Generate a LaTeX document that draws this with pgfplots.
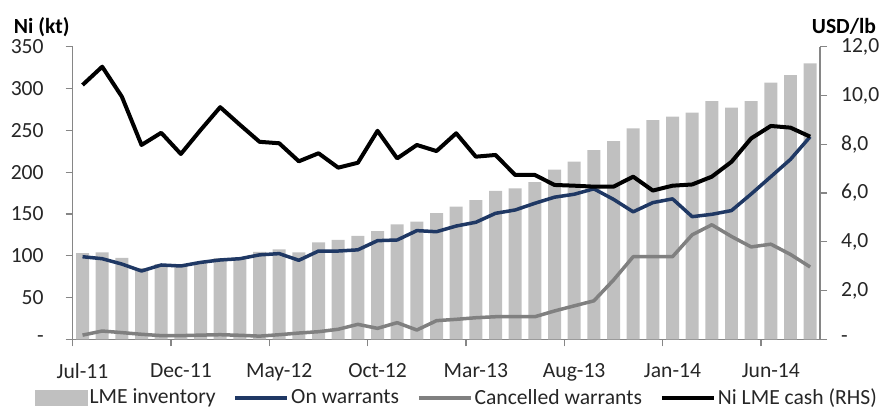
\documentclass[border=0pt]{standalone}
\usepackage{fontspec}
\setmainfont{Carlito}
\usepackage{pgfplots}
\usepackage{pgfplotstable}
\pgfplotsset{compat=1.18}
\definecolor{barc}{HTML}{C0C0C0}
\definecolor{navy}{HTML}{1F3864}
\definecolor{lgray}{HTML}{808080}
\definecolor{axc}{HTML}{868686}
\definecolor{txt}{HTML}{262626}
\pgfplotstableread{
x inv onw canc cash
0 103 98.8 5 10.43
1 104 96.4 9.9 11.18
2 97.5 90 8 9.95
3 85 81.7 6 7.97
4 90 88.9 4.4 8.47
5 88 87.7 4.4 7.6
6 92.5 92 5 8.58
7 97 94.9 5.5 9.52
8 98 96.4 4.8 8.8
9 104.5 101 3.8 8.1
10 107.5 102.5 5.5 8.04
11 104 94.5 7.5 7.3
12 116 105.6 9.1 7.63
13 119 105.6 12 7.04
14 123.6 107 17.9 7.24
15 129.5 118 13.1 8.55
16 137.5 118.8 19.9 7.42
17 140.7 130 11.1 7.97
18 151 128.7 22.3 7.72
19 158.6 135.5 23.9 8.45
20 166.6 140 25.8 7.49
21 177.4 150.7 27 7.56
22 180.6 154.7 27 6.74
23 188 162.7 27 6.74
24 203 170 33.9 6.33
25 212.4 173.5 40 6.3
26 226.4 180 46 6.26
27 237.2 167.4 70.9 6.26
28 252.4 152.5 98.8 6.67
29 262.3 163.5 98.8 6.1
30 266.3 168 98.8 6.3
31 271.2 146.7 125 6.35
32 285 149.5 137 6.67
33 277 154 123 7.28
34 285 173.8 110.5 8.24
35 307 194.5 113.8 8.75
36 316 215.3 101.5 8.68
37 330 242.3 86.5 8.31
}\data
\begin{document}
\begin{tikzpicture}[font=\fontsize{10.8}{13}\selectfont]
\begin{axis}[name=main,
  scale only axis, width=373.65pt, height=146.3pt,
  xmin=-0.5, xmax=37.5, ymin=0, ymax=350,
  axis x line*=bottom, axis y line*=left,
  axis line style={axc, line width=0.6pt, -},
  tick align=outside, major tick length=3.5pt,
  tick style={axc, line width=0.6pt},
  xtick={-0.5,4.5,...,34.5},
  xticklabels={Jul-11,Dec-11,May-12,Oct-12,Mar-13,Aug-13,Jan-14,Jun-14},
  xticklabel style={xshift=4.914pt, yshift=-5pt},
  ytick={0,50,...,350},
  yticklabels={-\hspace{3pt},50,100,150,200,250,300,350},
  yticklabel shift=7.5pt,
  tick label style={text=txt},
  /pgf/number format/assume math mode=true,
  clip=false]
\addplot[ybar, bar width=0.66, fill=barc, draw=none] table[x=x,y=inv]{\data};
\addplot[lgray, line width=1.75pt, line join=round, mark=none] table[x=x,y=canc]{\data};
\addplot[navy, line width=1.75pt, line join=round, mark=none] table[x=x,y=onw]{\data};
\node[anchor=east, inner sep=0pt, font=\fontsize{10.8}{13}\selectfont\bfseries, xshift=-1.35pt, yshift=10pt] at (rel axis cs:0,1) {Ni (kt)};
\end{axis}
\begin{axis}[
  scale only axis, width=373.65pt, height=146.3pt,
  xmin=-0.5, xmax=37.5, ymin=0, ymax=12,
  axis x line=none, axis y line*=right,
  axis line style={axc, line width=0.6pt, -},
  tick align=outside, major tick length=3.5pt,
  tick style={axc, line width=0.6pt},
  ytick={0,2,...,12},
  yticklabels={-,{2,0},{4,0},{6,0},{8,0},{10,0},{12,0}},
  yticklabel style={xshift=3.5pt},
  tick label style={text=txt},
  /pgf/number format/assume math mode=true,
  clip=false,
  legend image code/.code={\draw[#1, line cap=butt] (0pt,0pt) -- (26pt,0pt);},
  legend style={draw=none, fill=none, legend columns=4, at={(0.514,-0.2006)}, anchor=center,
    nodes={inner xsep=1pt},
    /tikz/every even column/.append style={column sep=8pt},
    font=\fontsize{10.8}{13}\selectfont, text=txt}]
\addlegendimage{legend image code/.code={\fill[barc] (0pt,-3.75pt) rectangle (26pt,3.75pt);}}
\addlegendentry{LME inventory}
\addlegendimage{navy, line width=1.75pt}
\addlegendentry{On warrants}
\addlegendimage{lgray, line width=1.75pt}
\addlegendentry{Cancelled warrants}
\addplot[black, line width=2pt, line join=round, mark=none] table[x=x,y=cash]{\data};
\addlegendentry{Ni LME cash (RHS)}
\node[anchor=west, inner sep=0pt, font=\fontsize{10.8}{13}\selectfont\bfseries, xshift=-4.25pt, yshift=10pt] at (rel axis cs:1,1) {USD/lb};
\end{axis}
\pgfresetboundingbox
\path ([shift={(-36.35pt,-34.35pt)}]main.south west) rectangle ([shift={(404.15pt,169.65pt)}]main.south west);
\end{tikzpicture}
\end{document}
